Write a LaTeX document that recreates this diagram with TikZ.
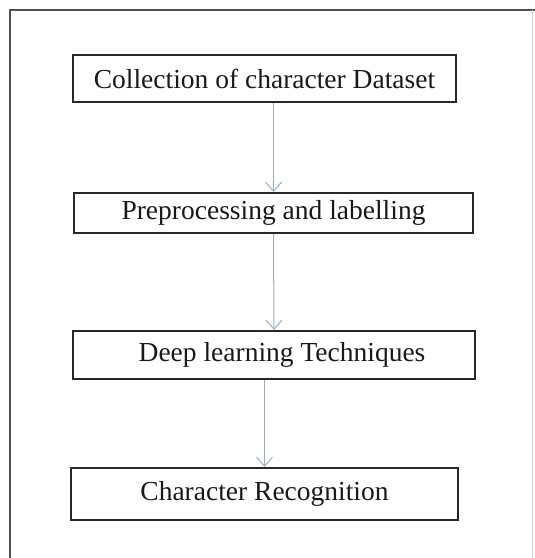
\documentclass[tikz,border=0pt]{standalone}
\usepackage{fontspec}
\setmainfont{Liberation Serif}
\usetikzlibrary{arrows.meta}
\definecolor{frame}{RGB}{80, 80, 80}
\definecolor{boxline}{RGB}{40, 40, 40}
\definecolor{flow}{RGB}{150, 175, 195}

\begin{document}
\begin{tikzpicture}[x=1pt, y=-1pt,
  stage/.style={draw=boxline, line width=2.2pt, inner sep=0pt, font=\fontsize{27.5}{32}\selectfont, text=black!90},
  flowarrow/.style={flow, line width=1pt, -{Straight Barb[length=9pt, width=16pt]}}]

% Canvas
\useasboundingbox (0,0) rectangle (535,558);

% Outer frame (cut off at the bottom)
\draw[frame, line width=2.5pt] (10,558) -- (10,10) -- (535,10); % left and top
\draw[gray!35, line width=1pt] (532,10) -- (532,558); % faint right edge

% Stages
\node[stage, minimum width=383pt, minimum height=47pt] (collect) at (264.5,78.5) {Collection of character Dataset};
\node[stage, minimum width=399pt, minimum height=40pt] (prep) at (273.5,213) {Preprocessing and labelling};
\node[stage, minimum width=402pt, minimum height=48pt] (deep) at (274,355) {\hspace*{16pt}Deep learning Techniques};
\node[stage, minimum width=387pt, minimum height=52pt] (recog) at (264.5,494) {Character Recognition};

% Arrows between stages
\draw[flowarrow] (collect.south -| prep) -- (prep.north);
\draw[flowarrow] (prep.south) -- (deep.north);
\draw[flowarrow] (deep.south -| recog) -- (recog.north);

\end{tikzpicture}
\end{document}
